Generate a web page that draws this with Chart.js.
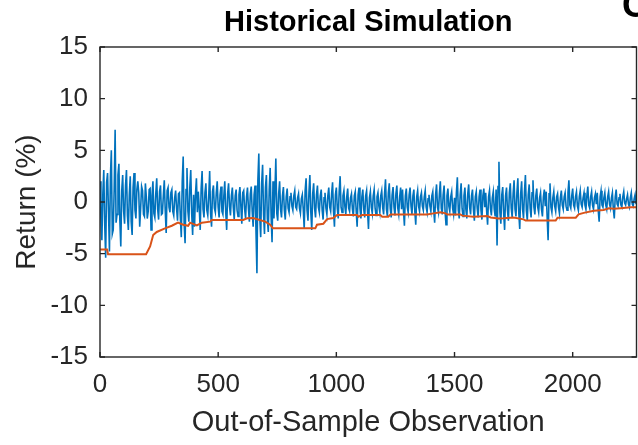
<!DOCTYPE html>
<html>
<head>
<meta charset="utf-8">
<title>Historical Simulation</title>
<script src="https://cdn.jsdelivr.net/npm/chart.js@4.4.0/dist/chart.umd.min.js"></script>
<style>
  html, body { margin: 0; padding: 0; background: #fff; }
  #wrap { width: 638px; height: 445px; }
</style>
</head>
<body>
<div id="wrap"><canvas id="mycanvas" width="638" height="445"></canvas></div>
<script>
// tick values
var xTicks = [0, 500, 1000, 1500, 2000];
var yTicks = [-15, -10, -5, 0, 5, 10, 15];
var xMax = 2270;

var obsStep = 8;
var returns = [
  2.0, -3.7, 3.1, -5.4, 2.8, -4.8, 5.0, -2.7, 7.0, -1.2,
  3.7, -4.3, 2.6, -2.1, 3.1, -2.7, 2.5, -3.2, 2.8, -1.6,
  2.0, -2.4, 1.5, -1.2, 1.8, -1.6, 1.2, -2.7, 2.0, -1.5,
  2.3, -1.7, 1.6, -1.1, 2.1, -3.0, 1.4, -1.0, 1.2, -1.3,
  1.1, -1.8, 0.9, -3.4, 4.4, -4.0, 3.3, -1.9, 3.1, -3.2,
  -2.4, 2.3, 1.0, -2.7, 3.0, -1.5, 1.8, -1.3, 3.0, -2.4,
  1.6, -1.0, 2.0, -1.5, 1.5, -1.2, 2.0, -2.7, 1.8, -1.3,
  1.4, -1.7, 1.2, -1.4, 1.45, -2.1, 1.1, -1.6, 1.4, -1.9,
  1.5, -2.4, 1.6, -6.9, 4.7, -3.4, 3.6, -3.1, 2.6, -2.9,
  3.3, -3.9, -1.6, 4.2, -1.8, 2.0, -1.5, 1.45, -1.7, 1.3,
  -1.0, 0.9, -0.8, 1.1, -0.7, 0.8, -1.1, 0.7, -2.6, 2.3,
  -1.8, 2.6, -2.7, 1.8, -1.5, 1.6, -1.0, 1.2, -1.7, 0.9,
  -1.2, 1.4, -0.9, 1.9, -2.4, 1.4, -1.6, 2.5, -1.0, 1.1,
  -1.2, 1.3, -0.9, 0.8, -1.4, 1.0, -2.4, 1.4, -1.6, 1.2,
  -1.5, 1.1, -2.6, 1.0, -1.1, 1.2, -1.3, 0.9, -1.0, 1.1,
  -1.2, 2.2, -1.4, 1.8, -1.5, 1.45, -1.3, 1.6, -1.2, 1.4,
  1.2, -2.3, 1.3, -1.0, 1.4, -1.2, 1.2, -2.2, 1.1, -0.9,
  0.9, -0.8, 1.1, -1.0, 0.7, -0.9, 1.0, -2.0, 1.7, -1.0,
  2.0, -1.2, 1.6, -2.2, 1.3, -0.9, 1.0, -1.2, -1.3, 2.4,
  -1.6, 1.8, -1.4, 1.4, -1.6, 1.7, -1.2, 1.2, -1.8, 1.0,
  -1.5, 1.2, -1.7, 1.3, 0.9, -2.2, 1.1, -1.3, 1.0, -1.4,
  -4.2, 3.9, -2.1, 1.45, -2.7, 1.4, -1.8, 1.8, -1.5, 2.1,
  -1.4, 2.3, -2.6, 2.0, -1.6, 2.6, -1.8, 1.7, -1.5, 2.1,
  -1.2, 1.3, -1.0, 0.9, -1.4, 1.2, 1.0, -3.7, 1.8, -1.0,
  1.0, -0.9, 0.8, -1.1, 1.1, -0.7, 0.9, -0.8, 2.1, -0.6,
  1.3, -0.6, 1.0, -0.8, 1.1, -0.5, 0.9, -0.7, 1.5, -0.6,
  1.0, -0.7, 0.8, 0.9, -1.9, 1.1, -0.5, 0.9, -0.7, 1.0,
  -0.6, 0.9, -1.6, 1.2, -0.4, 0.8, -0.5, 1.0, -0.3, 0.7,
  -0.5, 0.9, -0.4, 0.7
];

// returns (%) at observations 4, 12, 20, ... (the ones in between)
var returnsBetween = [
  -1.5, 0.8, -2.2, 1.9, -1.0, 2.4, -3.1, 1.2, -2.0, 2.6,
  -1.8, 1.1, -0.9, 1.6, -1.3, 0.7, -1.9, 1.4, -0.8, 1.2,
  0.9, -0.6, 1.1, -1.4, 0.5, -0.9, 1.3, 0.6, -1.1, 0.8,
  -0.7, 1.0, -1.2, 0.6, -0.8, 1.1, -0.5, 0.9, -0.9, 0.4,
  -0.6, 0.8, -1.5, 2.0, -2.1, 1.2, -0.9, 1.4, -1.1, 0.7,
  0.8, -1.0, -0.6, 1.3, -0.7, 0.9, -0.8, 0.5, -1.1, 1.0,
  -0.6, 0.9, -0.5, 0.7, -0.9, 0.6, -1.0, 0.8, -0.4, 0.6,
  -0.5, 0.6, -0.8, 0.7, -0.4, 0.9, -0.7, 0.5, -0.6, 0.8,
  -0.9, 0.7, -2.8, 2.1, -1.5, 1.8, -1.2, 1.4, -1.6, 1.2,
  -1.4, 2.0, 0.9, -1.1, 0.8, -0.7, 0.6, -0.8, 0.5, -0.6,
  0.5, -0.4, 0.6, -0.5, 0.4, -0.6, 0.3, -0.7, 1.1, -0.8,
  0.9, -1.0, 0.8, -0.6, 0.7, -0.5, 0.6, -0.8, 0.4, -0.6,
  0.6, -0.5, 0.8, -0.9, 0.7, -0.6, 1.0, -0.5, 0.6, -0.4,
  0.5, -0.6, 0.4, -0.7, 0.6, -0.9, 0.7, -0.6, 0.5, -0.7,
  0.6, -0.9, 0.4, -0.5, 0.6, -0.6, 0.5, -0.4, 0.6, -0.5,
  0.8, -0.7, 0.9, -0.6, 0.7, -0.5, 0.8, -0.6, 0.5, -0.7,
  -0.8, 0.6, -0.5, 0.7, -0.4, 0.6, -0.9, 0.5, -0.4, 0.5,
  -0.4, 0.5, -0.5, 0.3, -0.4, 0.6, -0.8, 0.7, -0.5, 0.8,
  -0.6, 0.7, -0.9, 0.6, -0.4, 0.5, -0.6, 0.4, 0.9, -0.8,
  0.7, -0.6, 0.6, -0.7, 0.8, -0.5, 0.6, -0.7, 0.5, -0.6,
  0.5, -0.8, 0.6, -0.5, -0.9, 0.5, -0.6, 0.4, -0.7, 1.2,
  1.5, -1.0, 0.7, -1.1, 0.6, -0.8, 0.9, -0.6, 0.8, -0.7,
  0.9, -1.1, 0.8, -0.7, 1.0, -0.8, 0.7, -0.6, 0.9, -0.5,
  0.6, -0.5, 0.4, -0.7, 0.5, -0.4, -1.5, 0.8, -0.5, 0.4,
  -0.4, 0.5, -0.5, 0.4, -0.3, 0.5, -0.4, 0.9, -0.3, 0.6,
  -0.3, 0.5, -0.4, 0.5, -0.2, 0.4, -0.3, 0.6, -0.3, 0.5,
  -0.3, 0.4, -0.2, -0.8, 0.5, -0.3, 0.4, -0.3, 0.5, -0.2,
  0.4, -0.7, 0.5, -0.2, 0.4, -0.3, 0.5, -0.1, 0.3, -0.2,
  0.4, -0.2, 0.3, -0.2
];

// historical simulation VaR (%), corner points of the orange line
var varObs = [1, 30, 34, 195, 212, 225, 240, 275, 304, 330, 352, 373, 381, 410, 431, 466, 473,
  606, 622, 648, 669, 699, 720, 732, 911, 918, 945, 961, 987, 1003, 1088, 1093, 1109,
  1186, 1194, 1220, 1229, 1384, 1411, 1441, 1462, 1469, 1525, 1533, 1580, 1639, 1653,
  1686, 1708, 1750, 1792, 1801, 1928, 1936, 2013, 2025, 2047, 2089, 2131, 2153, 2174,
  2203, 2246, 2270];
var varValues = [-4.6, -4.6, -5.05, -5.05, -4.3, -3.2, -2.9, -2.55, -2.3, -2.0, -2.2, -2.3, -2.0, -2.26, -2.0, -1.9, -1.74,
  -1.74, -1.58, -1.55, -1.7, -1.9, -2.2, -2.55, -2.55, -2.2, -2.1, -1.65, -1.55, -1.26, -1.26, -1.42, -1.26,
  -1.26, -1.42, -1.42, -1.2, -1.2, -1.1, -1.0, -1.1, -1.2, -1.2, -1.32, -1.42, -1.36, -1.5,
  -1.6, -1.58, -1.5, -1.68, -1.8, -1.8, -1.52, -1.52, -1.2, -1.05, -0.84, -0.78, -0.61, -0.65,
  -0.6, -0.51, -0.5];

var axisColor = '#262626';
var fontFamily = '"Liberation Sans", Arial, sans-serif';

var returnPoints = [];
for (var i = 0; i < returns.length; i++) {
  returnPoints.push({ x: i * obsStep, y: returns[i] });
  returnPoints.push({ x: i * obsStep + obsStep / 2, y: returnsBetween[i] });
}
var varPoints = varObs.map(function (o, i) { return { x: o, y: varValues[i] }; });

var boxPlugin = {
  id: 'matlabBox',
  afterDatasetsDraw: function (chart) {
    var ctx = chart.ctx, a = chart.chartArea, sx = chart.scales.x, sy = chart.scales.y;
    ctx.save();
    ctx.strokeStyle = axisColor;
    ctx.lineWidth = 1.4;
    ctx.beginPath();
    xTicks.forEach(function (v) {
      var px = sx.getPixelForValue(v);
      ctx.moveTo(px, a.bottom); ctx.lineTo(px, a.bottom - 5);
      ctx.moveTo(px, a.top); ctx.lineTo(px, a.top + 5);
    });
    yTicks.forEach(function (v) {
      var py = sy.getPixelForValue(v);
      ctx.moveTo(a.left, py); ctx.lineTo(a.left + 5, py);
      ctx.moveTo(a.right, py); ctx.lineTo(a.right - 5, py);
    });
    ctx.stroke();
    ctx.strokeRect(a.left, a.top, a.right - a.left, a.bottom - a.top);

    // titles
    ctx.fillStyle = '#000';
    ctx.font = 'bold 29px ' + fontFamily;
    ctx.textAlign = 'center';
    ctx.textBaseline = 'alphabetic';
    ctx.fillText('Historical Simulation', (a.left + a.right) / 2, 31);
    // edge of the neighbouring panel's title
    ctx.font = 'bold 36px ' + fontFamily;
    ctx.textAlign = 'left';
    ctx.fillText('C', 622, 17);
    ctx.restore();
  }
};

var ctx = document.getElementById('mycanvas');
var chart = new Chart(ctx, {
  type: 'line',
  data: {
    datasets: [
      {
        label: 'VaR',
        data: varPoints,
        borderColor: '#D95319',
        borderWidth: 2,
        pointRadius: 0,
        tension: 0,
        fill: false,
        order: 0
      },
      {
        label: 'Return',
        data: returnPoints,
        borderColor: '#0072BD',
        borderWidth: 1.6,
        pointRadius: 0,
        tension: 0,
        fill: false,
        order: 1
      }
    ]
  },
  options: {
    responsive: false,
    animation: false,
    events: [],
    layout: { padding: { top: 47, right: 1.5, left: 0, bottom: 0 } },
    plugins: { legend: { display: false }, tooltip: { enabled: false }, title: { display: false } },
    scales: {
      x: {
        type: 'linear',
        min: 0,
        max: xMax,
        grid: { display: false, drawTicks: false },
        border: { display: false },
        afterBuildTicks: function (s) { s.ticks = xTicks.map(function (v) { return { value: v }; }); },
        afterFit: function (s) { s.height = 88; },
        ticks: {
          color: axisColor,
          font: { family: fontFamily, size: 26 },
          padding: 12,
          maxRotation: 0,
          autoSkip: false,
          callback: function (v) { return String(v); }
        },
        title: {
          display: true,
          text: 'Out-of-Sample Observation',
          color: axisColor,
          font: { family: fontFamily, size: 29, lineHeight: 1.2 },
          padding: { top: 0, bottom: 5 }
        }
      },
      y: {
        type: 'linear',
        min: -15,
        max: 15,
        grid: { display: false, drawTicks: false },
        border: { display: false },
        afterBuildTicks: function (s) { s.ticks = yTicks.map(function (v) { return { value: v }; }); },
        afterFit: function (s) { s.width = 100; },
        ticks: {
          color: axisColor,
          font: { family: fontFamily, size: 26 },
          padding: 12,
          autoSkip: false,
          callback: function (v) { return String(v); }
        },
        title: {
          display: true,
          text: 'Return (%)',
          color: axisColor,
          font: { family: fontFamily, size: 28, lineHeight: 1.2 },
          padding: { top: 10, bottom: 0 }
        }
      }
    }
  },
  plugins: [boxPlugin]
});
</script>
</body>
</html>
